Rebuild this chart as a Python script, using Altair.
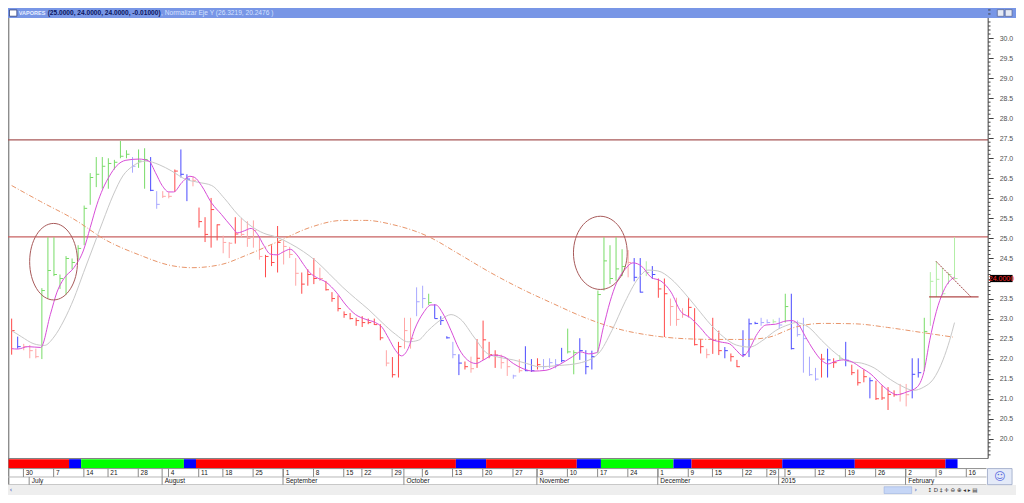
import altair as alt
import pandas as pd

# ---------------- values ----------------
HIGH = [23.00, 22.55, 22.37, 22.34, 22.25, 23.76, 25.03, 25.03, 24.10, 24.56,
        24.50, 24.83, 25.82, 26.63, 27.03, 27.03, 27.00, 26.96, 27.43, 27.20,
        27.03, 27.22, 27.25, 27.03, 26.18, 26.18, 26.15, 26.72, 27.22, 26.60,
        26.55, 25.77, 25.53, 26.01, 25.35, 25.07, 24.91, 25.53, 25.51, 25.43,
        25.45, 25.00, 24.59, 24.83, 25.31, 24.95, 24.79, 24.51, 24.15, 24.23,
        24.51, 24.27, 23.94, 23.66, 23.58, 23.18, 23.14, 23.02, 23.06, 23.00,
        23.00, 22.86, 22.21, 22.04, 22.42, 23.02, 23.02, 23.78, 23.82, 23.62,
        23.36, 23.06, 22.56, 22.42, 22.11, 21.93, 22.05, 22.49, 22.95, 22.42,
        22.21, 22.10, 22.01, 21.60, 21.99, 22.31, 21.99, 22.01, 21.99, 22.01,
        21.99, 22.27, 22.75, 22.21, 22.51, 22.21, 22.20, 23.70, 25.03, 24.83,
        25.03, 24.73, 24.71, 24.51, 24.51, 24.43, 24.31, 24.00, 24.00, 23.50,
        23.52, 23.26, 23.52, 23.26, 22.49, 22.25, 23.02, 22.70, 22.29, 22.13,
        21.97, 22.71, 23.00, 22.92, 23.02, 22.98, 22.98, 23.02, 23.62, 23.62,
        22.95, 23.02, 22.05, 21.77, 22.12, 22.25, 22.01, 22.09, 22.42, 21.85,
        21.73, 21.73, 21.53, 21.45, 21.33, 21.29, 21.21, 21.37, 21.37, 22.01,
        22.01, 23.02, 24.16, 24.43, 24.27, 24.15, 25.03]
LOW = [22.10, 22.25, 22.21, 22.01, 22.01, 21.99, 23.50, 24.06, 23.74, 23.60,
       24.23, 24.47, 24.83, 25.84, 26.28, 26.24, 26.24, 26.72, 27.00, 27.00,
       26.64, 26.76, 26.24, 26.18, 25.74, 26.01, 26.00, 26.16, 26.52, 25.93,
       26.30, 25.27, 24.91, 24.77, 24.95, 24.63, 24.51, 24.87, 25.03, 24.79,
       24.77, 24.47, 24.03, 24.31, 24.15, 24.35, 24.51, 23.82, 23.62, 23.82,
       23.86, 23.94, 23.70, 23.42, 23.18, 23.02, 22.98, 22.82, 22.79, 22.86,
       22.84, 22.46, 21.81, 21.53, 21.53, 22.25, 22.25, 23.06, 23.26, 23.34,
       23.00, 22.84, 22.50, 22.01, 21.59, 21.73, 21.65, 21.77, 21.97, 22.01,
       21.77, 21.75, 21.57, 21.50, 21.65, 21.69, 21.67, 21.73, 21.73, 21.77,
       21.76, 21.91, 22.13, 21.61, 21.97, 21.61, 21.73, 22.13, 23.70, 23.86,
       23.94, 24.06, 24.03, 23.93, 23.65, 24.06, 23.99, 23.52, 22.54, 22.82,
       22.82, 23.02, 23.03, 22.33, 22.13, 22.01, 22.12, 22.09, 22.01, 21.93,
       21.79, 22.04, 22.04, 22.86, 22.82, 22.88, 22.88, 22.74, 22.90, 22.23,
       22.55, 21.65, 21.57, 21.45, 21.53, 21.53, 21.77, 21.97, 21.81, 21.59,
       21.33, 21.41, 21.01, 20.97, 20.97, 20.72, 21.05, 20.93, 20.81, 21.01,
       21.53, 21.69, 22.82, 23.54, 23.58, 23.86, 23.99]
CLOSE = [22.70, 22.30, 22.30, 22.20, 22.05, 23.70, 24.20, 24.10, 24.00, 24.50,
         24.40, 24.75, 25.75, 26.52, 26.60, 26.80, 26.87, 26.90, 27.05, 27.10,
         26.80, 26.93, 26.97, 26.20, 25.85, 26.05, 26.05, 26.68, 26.60, 26.48,
         26.45, 25.42, 25.10, 25.72, 25.34, 24.90, 24.88, 25.11, 25.10, 25.00,
         25.20, 24.55, 24.55, 24.40, 24.90, 24.80, 24.60, 24.13, 23.86, 24.10,
         24.00, 24.00, 23.72, 23.50, 23.25, 23.10, 23.00, 22.95, 22.90, 22.90,
         22.85, 22.52, 21.89, 21.60, 22.30, 22.70, 22.50, 23.42, 23.50, 23.40,
         23.00, 22.95, 22.52, 22.10, 21.89, 21.80, 21.75, 22.01, 22.47, 22.10,
         22.09, 21.90, 21.80, 21.57, 21.70, 21.70, 21.70, 21.85, 21.80, 21.90,
         21.85, 21.95, 22.17, 22.15, 22.20, 21.80, 22.05, 23.60, 24.44, 24.00,
         24.24, 24.30, 24.40, 24.03, 23.66, 24.15, 24.10, 23.74, 23.62, 23.30,
         22.98, 23.10, 23.28, 22.35, 22.30, 22.10, 22.46, 22.20, 22.20, 22.05,
         21.80, 22.10, 22.87, 22.88, 22.90, 22.90, 22.92, 22.84, 23.30, 22.25,
         22.60, 22.50, 21.60, 21.49, 21.99, 21.97, 21.90, 22.00, 21.96, 21.65,
         21.40, 21.55, 21.45, 21.00, 21.02, 21.11, 21.10, 21.13, 21.10, 21.61,
         21.65, 22.68, 23.93, 23.98, 23.62, 24.10, 24.00]
# bar colour class: G/g green, R/r red, B/b blue (upper case = strong, lower = pale)
BAR_TONE = list("RBrrrGGGGG" "GGGGGGGGGG" "bGGBbrrRBB" "rRRRRrrRrr" "rrRRRrrrRR"
                "RrRRRRRRRR" "RRrRRrrbbG" "BBBbBRrRRR" "RrrbrBBRbb" "bBGGBBBGGG"
                "GGrBBgBRRr" "rrRRRrRRBR" "RBBBbbgbGB" "bbbbRBRgBR" "RRBRRRRrrB"
                "BGggggg")

# coloured regime strip under the plot (first bar, last bar, colour)
STRIP_FIRST = [0, 10, 12, 29, 31, 74, 79, 94, 98, 110, 113, 128, 140, 155]
STRIP_LAST = [9, 11, 28, 30, 73, 78, 93, 97, 109, 112, 127, 139, 154, 156]
STRIP_TONE = ["red", "blue", "green", "blue", "red", "blue", "red", "blue",
              "green", "blue", "red", "blue", "red", "blue"]

# date axis (bar index of the first trading day of each week / month)
WEEK_IDX = [2, 7, 12, 16, 21, 26, 31, 35, 40, 45, 50, 55, 58, 63, 68, 73, 78, 83,
            87, 92, 97, 102, 107, 112, 116, 121, 125, 128, 133, 138, 143, 148, 153, 158]
WEEK_LABEL = ["30", "7", "14", "21", "28", "4", "11", "18", "25", "1", "8", "15", "22",
              "29", "6", "13", "20", "27", "3", "10", "17", "24", "1", "9", "15", "22",
              "29", "5", "12", "19", "26", "2", "9", "16"]
MONTH_IDX = [3, 25, 45, 65, 87, 107, 127, 148]
MONTH_LABEL = ["July", "August", "September", "October", "November", "December",
               "2015", "February"]

# indicator lines (bar index, price)
MAGENTA = [(0, 22.25), (1.0, 22.24), (2.7, 22.30), (4.8, 22.28), (6.4, 23.10), (7.5, 23.66),
           (8.6, 23.99), (10.3, 24.27), (11.9, 24.71), (13.0, 25.27), (14.1, 25.84),
           (15.1, 26.24), (16.2, 26.56), (17.3, 26.80), (18.9, 26.95), (21.1, 26.98),
           (22.7, 26.93), (23.8, 26.64), (24.9, 26.32), (26.0, 26.16), (26.8, 26.16),
           (28.2, 26.40), (29.5, 26.55), (30.3, 26.52), (31.4, 26.32), (33.1, 25.88),
           (34.7, 25.60), (36.3, 25.31), (37.4, 25.14), (38.5, 25.19), (39.6, 25.25),
           (40.7, 25.10), (41.7, 24.83), (42.8, 24.61), (43.9, 24.59), (45.0, 24.67),
           (46.1, 24.73), (47.2, 24.59), (48.3, 24.35), (49.3, 24.15), (50.4, 24.03),
           (52.1, 23.90), (53.7, 23.66), (55.3, 23.34), (56.9, 23.10), (58.6, 22.98),
           (60.2, 22.90), (61.3, 22.78), (62.4, 22.50), (63.5, 22.21), (64.5, 22.07),
           (65.6, 22.25), (66.7, 22.74), (68.1, 23.14), (69.4, 23.34), (70.2, 23.34),
           (71.3, 23.14), (72.7, 22.70), (74.0, 22.25), (75.4, 21.97), (76.8, 21.88),
           (78.1, 21.97), (79.7, 22.09), (81.4, 22.05), (83.0, 21.88), (84.6, 21.75),
           (86.3, 21.69), (88.4, 21.71), (90.6, 21.85), (92.8, 22.05), (94.1, 22.17),
           (95.5, 22.12), (96.8, 22.15), (97.9, 22.78), (99.0, 23.42), (100.1, 23.90),
           (101.5, 24.23), (102.8, 24.39), (104.2, 24.31), (105.8, 24.03), (107.4, 23.94),
           (109.1, 23.66), (110.7, 23.18), (112.3, 23.02), (113.9, 22.78), (115.6, 22.50),
           (117.2, 22.42), (118.8, 22.37), (119.9, 22.21), (121.0, 22.07), (122.1, 22.25),
           (123.2, 22.58), (124.8, 22.84), (126.4, 22.86), (128.1, 22.94), (129.1, 22.95),
           (130.2, 22.85), (131.3, 22.56), (132.7, 22.21), (134.0, 21.96), (135.1, 21.87),
           (136.2, 21.93), (137.6, 21.97), (138.9, 21.93), (140.6, 21.77), (142.2, 21.61),
           (143.8, 21.37), (145.4, 21.17), (146.5, 21.10), (148.1, 21.17), (149.8, 21.29),
           (150.9, 21.65), (151.9, 22.46), (153.0, 23.18), (154.1, 23.66), (155.2, 23.94),
           (156.0, 24.03)]
GRAY = [(0, 22.70), (1.6, 22.55), (3.7, 22.37), (5.4, 22.33), (7.0, 22.54), (8.6, 22.94),
        (10.3, 23.50), (11.9, 24.15), (13.5, 24.79), (15.1, 25.43), (16.8, 26.08),
        (18.4, 26.56), (20.0, 26.80), (22.2, 26.93), (24.4, 26.84), (26.5, 26.68),
        (28.7, 26.48), (30.9, 26.40), (33.1, 26.32), (35.2, 26.00), (37.4, 25.60),
        (39.6, 25.31), (41.7, 25.13), (43.9, 25.03), (46.1, 24.87), (48.3, 24.67),
        (50.4, 24.43), (52.6, 24.11), (54.8, 23.78), (56.9, 23.50), (59.1, 23.22),
        (61.3, 22.90), (63.5, 22.61), (65.6, 22.42), (67.3, 22.46), (68.9, 22.70),
        (71.1, 22.98), (72.7, 23.10), (74.3, 22.98), (76.5, 22.54), (78.7, 22.13),
        (80.8, 22.03), (83.0, 21.97), (85.2, 21.88), (87.3, 21.80), (90.6, 21.83),
        (93.9, 21.89), (97.1, 22.13), (99.3, 22.70), (101.5, 23.42), (103.6, 23.99),
        (105.3, 24.21), (106.9, 24.19), (109.1, 23.99), (111.2, 23.66), (113.4, 23.26),
        (115.6, 22.86), (117.8, 22.54), (119.9, 22.34), (122.1, 22.29), (124.3, 22.46),
        (126.4, 22.70), (128.6, 22.85), (129.7, 22.90), (131.9, 22.78), (134.0, 22.46),
        (136.2, 22.15), (138.4, 21.93), (140.6, 21.89), (142.7, 21.77), (144.9, 21.53),
        (147.1, 21.33), (149.2, 21.21), (150.9, 21.29), (152.5, 21.49), (154.1, 21.97),
        (155.2, 22.46), (156.0, 22.90)]
ORANGE = [(0, 26.32), (4.8, 25.92), (10.3, 25.48), (15.7, 24.95), (21.1, 24.59),
          (26.5, 24.32), (29.8, 24.27), (34.7, 24.35), (38.5, 24.56), (43.9, 24.91),
          (49.3, 25.27), (54.8, 25.45), (58.6, 25.45), (62.9, 25.35), (68.9, 25.05),
          (73.8, 24.63), (79.2, 24.15), (84.1, 23.76), (89.5, 23.38), (94.9, 23.02),
          (100.4, 22.74), (105.8, 22.58), (111.2, 22.50), (116.7, 22.48), (121.0, 22.48),
          (124.8, 22.52), (130.0, 22.80), (134.0, 22.88), (139.5, 22.87), (144.9, 22.78),
          (150.3, 22.66), (155.7, 22.54)]

LEVELS = [27.46, 25.04]
ELLIPSE_CENTRES = [(6.94, 24.42), (97.4, 24.64)]
TRIANGLE_SIDE = [(152.93, 24.43), (158.73, 23.54)]
TRIANGLE_BASE = [(151.8, 23.54), (159.98, 23.54)]
LAST_PRICE = 24.0
LAST_LABEL = "24.0000"
AXIS_VALUES = [20.0, 20.5, 21.0, 21.5, 22.0, 22.5, 23.0, 23.5, 24.0, 24.5, 25.0,
               25.5, 26.0, 26.5, 27.0, 27.5, 28.0, 28.5, 29.0, 29.5, 30.0]
MINOR_VALUES = [v / 10 for v in range(195, 308) if v % 5 != 0]
TITLE_PARTS = ["VAPORES", "(25.0000, 24.0000, 24.0000, -0.01000)",
               ", Normalizar Eje Y (26.3219, 20.2476 )"]

# ---------------- layout ----------------
W, H = 1008, 487
SX, SY = W / 1024, H / 503
def px(r): return r * SX
def py(r): return r * SY

X0, DX = 3.7, 6.14          # reference pixel of bar 0 and bar spacing
xa = -X0 / DX
xb = xa + W / (SX * DX)
XS = alt.Scale(domain=[xa, xb], nice=False, zero=False)
Y20, DY = 445.0, 41.4       # reference pixel of price 20 and pixels per unit
kk = SY * DY
ya = 20 - (H - SY * Y20) / kk
yb = ya + H / kk
YS = alt.Scale(domain=[ya, yb], nice=False, zero=False)

FONT = "Liberation Sans"
one = pd.DataFrame({"k": [0]})

# the last-price box covers the 24.0 label, as in the reference
YAX = alt.Axis(orient="right", offset=px(995.7) - W, values=AXIS_VALUES, format=".1f",
               labelExpr=f"abs(datum.value - {LAST_PRICE}) < 0.01 ? '' : datum.label",
               domain=False, grid=False, ticks=True, tickSize=5, tickColor="#404040",
               tickWidth=1, labelFont=FONT, labelFontSize=7, labelColor="#505050",
               labelPadding=6, labelAlign="left", labelBaseline="middle",
               labelFlush=False, labelOverlap=False, title=None)

def xq(f): return alt.X(f"{f}:Q", scale=XS, axis=None)
def yq(f): return alt.Y(f"{f}:Q", scale=YS, axis=YAX, title=None)

def rect_px(x1, y1, x2, y2, **kw):
    return alt.Chart(one).mark_rect(**kw).encode(
        x=alt.value(px(x1)), x2=alt.value(px(x2)), y=alt.value(py(y1)), y2=alt.value(py(y2)))

def hline_px(x1, x2, ry, color, w=1.0):
    return alt.Chart(one).mark_rule(color=color, strokeWidth=w).encode(
        x=alt.value(px(x1)), x2=alt.value(px(x2)), y=alt.value(py(ry)))

def vline_px(rx, y1, y2, color, w=1.0):
    return alt.Chart(one).mark_rule(color=color, strokeWidth=w).encode(
        x=alt.value(px(rx)), y=alt.value(py(y1)), y2=alt.value(py(y2)))

def text_px(rx, ry, s, **kw):
    return alt.Chart(one).mark_text(**kw).encode(
        x=alt.value(px(rx)), y=alt.value(py(ry)), text=alt.value(s))

layers = []

# title bar
layers.append(rect_px(0, 0, 1024, 10.3, color="#7896E6"))
layers.append(rect_px(1.5, 2.0, 9.0, 8.5, fill="#FFFFFF", stroke="#30407A", strokeWidth=0.8))
layers.append(rect_px(1005, 1.7, 1011.7, 8.6, fill="#E6EAF4", stroke="#5A6A9A", strokeWidth=0.8))
layers.append(rect_px(1013, 1.7, 1020, 8.6, fill="#E6EAF4", stroke="#5A6A9A", strokeWidth=0.8))
title_x = [11.0, 40.3, 155.5]
title_fs = [5.5, 6.6, 6.6]
title_col = ["#E8EFFF", "#0B1660", "#D6E2FF"]
title_wt = ["bold", "bold", "normal"]
for tx, s, fs, c, wt in zip(title_x, TITLE_PARTS, title_fs, title_col, title_wt):
    layers.append(text_px(tx, 5.4, s, align="left", baseline="middle", font=FONT,
                          fontSize=fs, fontWeight=wt, color=c))

# frame
layers.append(vline_px(0.8, 10.3, 492.3, "#606060"))
layers.append(hline_px(0, 995.7, 465.3, "#808080"))

# horizontal levels
lev = pd.DataFrame({"v": LEVELS, "c": ["#A85858", "#C86262"]})
layers.append(alt.Chart(lev).mark_rule(strokeWidth=1.3).encode(
    y=yq("v"), x=alt.value(0), x2=alt.value(px(995.7)), color=alt.Color("c:N", scale=None)))

# bars
TONE_HEX = {"G": "#78DC68", "g": "#B2EEA6", "R": "#FF4A4A", "r": "#FFA6A6",
            "B": "#4A4AFF", "b": "#A8A8FF"}
n = len(CLOSE)
bars = pd.DataFrame({"i": list(range(n)), "high": HIGH[:n], "low": LOW[:n], "close": CLOSE,
                     "hex": [TONE_HEX[c] for c in BAR_TONE[:n]]})
bars["i2"] = bars["i"] + 0.5
layers.append(alt.Chart(bars).mark_rule(strokeWidth=1).encode(
    x=xq("i"), y=yq("low"), y2="high:Q", color=alt.Color("hex:N", scale=None)))
layers.append(alt.Chart(bars).mark_rule(strokeWidth=1).encode(
    x=xq("i"), x2="i2:Q", y=yq("close"), color=alt.Color("hex:N", scale=None)))

# indicator lines
def sdf(pairs): return pd.DataFrame(pairs, columns=["i", "v"])
layers.append(alt.Chart(sdf(ORANGE)).mark_line(color="#E8956A", strokeWidth=1,
              strokeDash=[5, 2, 1, 2], interpolate="monotone").encode(x=xq("i"), y=yq("v")))
layers.append(alt.Chart(sdf(GRAY)).mark_line(color="#C8C8C8", strokeWidth=1,
              interpolate="monotone").encode(x=xq("i"), y=yq("v")))
layers.append(alt.Chart(sdf(MAGENTA)).mark_line(color="#D84ED8", strokeWidth=1,
              interpolate="monotone").encode(x=xq("i"), y=yq("v")))

# ellipses (custom symbol path)
def ellipse_path(b):
    c = 0.5523
    return (f"M1,0 C1,{c*b:.4f} {c:.4f},{b:.4f} 0,{b:.4f} "
            f"C{-c:.4f},{b:.4f} -1,{c*b:.4f} -1,0 "
            f"C-1,{-c*b:.4f} {-c:.4f},{-b:.4f} 0,{-b:.4f} "
            f"C{c:.4f},{-b:.4f} 1,{-c*b:.4f} 1,0 Z")
ELL_R = [(24.3, 39.5), (27.3, 37.8)]  # reference radii in px (style)
for (ci, cv), (rx, ry) in zip(ELLIPSE_CENTRES, ELL_R):
    rxo, ryo = px(rx), py(ry)
    layers.append(alt.Chart(pd.DataFrame({"i": [ci], "v": [cv]})).mark_point(
        shape=ellipse_path(ryo / rxo), size=(2 * rxo) ** 2, filled=False,
        stroke="#A85A5A", strokeWidth=1, opacity=1).encode(x=xq("i"), y=yq("v")))

# triangle
layers.append(alt.Chart(sdf(TRIANGLE_SIDE)).mark_line(color="#A04444", strokeWidth=1,
              strokeDash=[2, 1]).encode(x=xq("i"), y=yq("v")))
layers.append(alt.Chart(sdf(TRIANGLE_BASE)).mark_line(color="#B04848", strokeWidth=1.3).encode(
    x=xq("i"), y=yq("v")))

# price axis line and minor ticks
layers.append(vline_px(995.7, 10.3, 465.3, "#404040"))
layers.append(alt.Chart(pd.DataFrame({"v": MINOR_VALUES})).mark_rule(
    color="#404040", strokeWidth=1).encode(
    y=yq("v"), x=alt.value(px(995.7)), x2=alt.value(px(995.7) + 2.4)))

# last price box
lp = pd.DataFrame({"a": [LAST_PRICE + 0.09], "b": [LAST_PRICE - 0.09], "v": [LAST_PRICE]})
layers.append(alt.Chart(lp).mark_rect(color="#000000").encode(
    y=yq("a"), y2="b:Q", x=alt.value(px(997.7)), x2=alt.value(px(1020.5))))
layers.append(alt.Chart(lp).mark_text(color="#FF2A2A", font=FONT, fontSize=7,
              align="center", baseline="middle").encode(
    y=yq("v"), x=alt.value(px(1009.2)), text=alt.value(LAST_LABEL)))

# regime strip
STRIP_HEX = {"red": "#FF0000", "blue": "#0000FF", "green": "#00FF00"}
strip = pd.DataFrame({"s": [a - 0.5 for a in STRIP_FIRST], "e": [b + 0.5 for b in STRIP_LAST],
                      "c": [STRIP_HEX[t] for t in STRIP_TONE]})
layers.append(alt.Chart(strip).mark_rect().encode(
    x=xq("s"), x2="e:Q", y=alt.value(py(466.0)), y2=alt.value(py(475.4)),
    color=alt.Color("c:N", scale=None)))

# date rows
layers.append(hline_px(0, 994, 475.7, "#909090"))
layers.append(hline_px(0, 994, 484.4, "#B8B8B8"))
layers.append(hline_px(0, 994, 492.4, "#B8B8B8"))
wk = pd.DataFrame({"i": WEEK_IDX, "t": WEEK_LABEL})
wk["tx"] = wk["i"] - 0.05
layers.append(alt.Chart(wk).mark_rule(color="#8A8A8A", strokeWidth=1).encode(
    x=xq("tx"), y=alt.value(py(475.7)), y2=alt.value(py(484.4))))
layers.append(alt.Chart(wk).mark_text(align="left", baseline="middle", dx=2, font=FONT,
              fontSize=6.5, color="#202020").encode(
    x=xq("i"), y=alt.value(py(480.2)), text="t:N"))
mo = pd.DataFrame({"i": MONTH_IDX, "t": MONTH_LABEL})
mo["tx"] = mo["i"] - 0.1
layers.append(alt.Chart(mo).mark_rule(color="#8A8A8A", strokeWidth=1).encode(
    x=xq("tx"), y=alt.value(py(484.4)), y2=alt.value(py(492.4))))
layers.append(alt.Chart(mo.iloc[1:]).mark_rule(color="#8A8A8A", strokeWidth=1).encode(
    x=xq("tx"), y=alt.value(py(475.7)), y2=alt.value(py(484.4))))
layers.append(alt.Chart(mo).mark_text(align="left", baseline="middle", dx=2, font=FONT,
              fontSize=6.5, color="#202020").encode(
    x=xq("i"), y=alt.value(py(488.4)), text="t:N"))

# bottom scroll band and status box
layers.append(rect_px(0, 492.6, 1024, 503, color="#EEEEEE"))
layers.append(text_px(3, 498, "\u2039", align="center", baseline="middle", font="DejaVu Sans",
                      fontSize=7, color="#3050C0"))
layers.append(rect_px(890, 494.5, 918, 501.5, fill="#C6D6F6", stroke="#9AB0E0", strokeWidth=0.6))
layers.append(text_px(922, 498, "\u203a", align="center", baseline="middle", font="DejaVu Sans",
                      fontSize=7, color="#3050C0"))
layers.append(text_px(934, 498, "\u2195  D  \u2021  \u271b  \u2296  \u2295   \u25c2  \u25b8  \u25a4",
                      align="left", baseline="middle", font="DejaVu Sans", fontSize=5.5,
                      color="#303030"))
layers.append(rect_px(995, 475.7, 1020, 492.3, fill="#E4EAF8", stroke="#98A4C4", strokeWidth=0.8))
layers.append(text_px(1007.5, 484, "\u263a", align="center", baseline="middle",
                      font="DejaVu Sans", fontSize=11, color="#5A6AE0"))

chart = alt.layer(*layers).properties(
    width=W, height=H, padding=0, background="white",
    autosize=alt.AutoSizeParams(type="none")
).configure_view(stroke=None)

chart.save("out.html", embed_options={"renderer": "svg", "actions": False})
